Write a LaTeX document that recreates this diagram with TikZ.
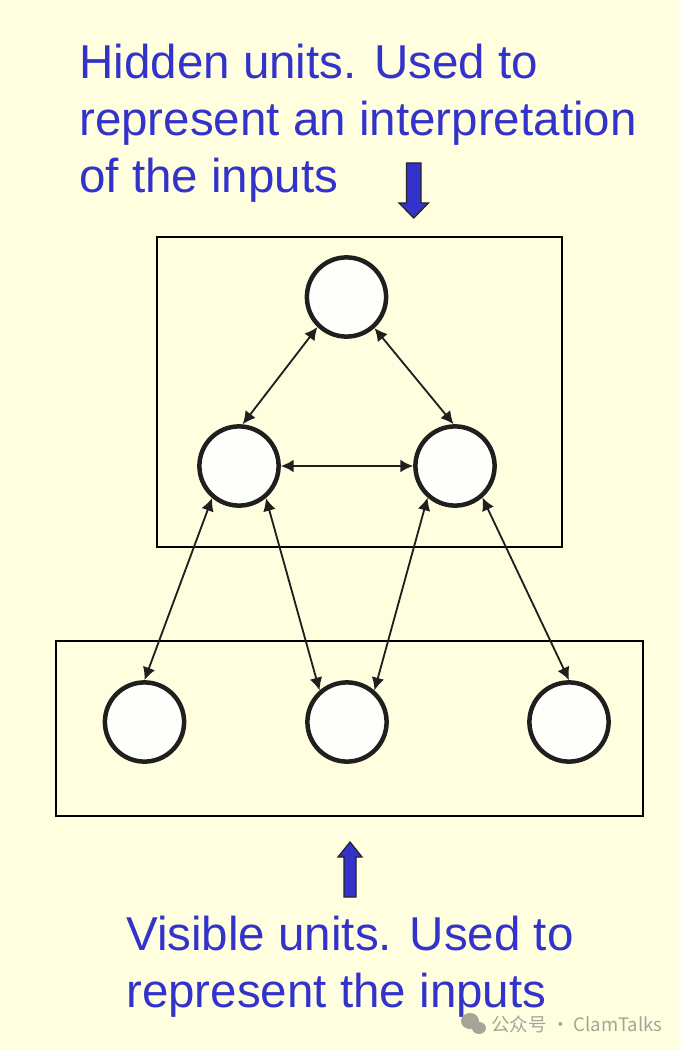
\documentclass[tikz,border=0pt]{standalone}
\usepackage{fontspec}
\setmainfont{Liberation Sans}
\newfontfamily\cjk{Noto Sans CJK SC}
\usetikzlibrary{arrows.meta}
\definecolor{slidebg}{RGB}{255,255,224}
\definecolor{labelblue}{RGB}{51,51,204}
\definecolor{markgray}{RGB}{165,165,150}
\definecolor{unitfill}{RGB}{254,254,250}
\begin{document}
\begin{tikzpicture}[x=0.025cm,y=-0.025cm,
  unit/.style={circle,draw=black!88,line width=3.2pt,fill=unitfill,minimum size=1.98cm,inner sep=0pt},
  link/.style={{Latex[length=3.2mm,width=3.2mm]}-{Latex[length=3.2mm,width=3.2mm]},line width=1.3pt,black!88},
  caption/.style={labelblue,font=\fontsize{33.8}{40.6}\selectfont,align=left,inner sep=0pt,anchor=north west},
  blockarrow/.style={fill=labelblue,draw=black!85,line width=0.9pt}]
\fill[slidebg] (0,0) rectangle (680,1050);
% captions
\node[caption] (hidtext) at (79,44) {Hidden units. Used to\\represent an interpretation\\of the inputs};
\node[caption] (vistext) at (126,916) {Visible units. Used to\\represent the inputs};
\filldraw[blockarrow] (406.5,163) -- (421,163) -- (421,203) -- (428.5,203) -- (413.75,218) -- (399,203) -- (406.5,203) -- cycle;
\filldraw[blockarrow] (344,897) -- (356,897) -- (356,857) -- (362,857) -- (350,842) -- (338,857) -- (344,857) -- cycle;
% the two layers
\draw[line width=1.1pt] (157,237) rectangle (562,547);
\draw[line width=1.1pt] (56,641) rectangle (643,816);
\node[unit] (top) at (346.5,297) {};
\node[unit] (hl) at (239,466) {};
\node[unit] (hr) at (455,466) {};
\node[unit] (vl) at (144.5,722) {};
\node[unit] (vm) at (347,722) {};
\node[unit] (vr) at (569,722) {};
% symmetric links
\draw[link] (top.-134) -- (hl.85);
\draw[link] (top.-48) -- (hr.92);
\draw[link] (hl.east) -- (hr.west);
\draw[link] (hl.-130) -- (vl.north);
\draw[link] (hl.-50) -- (vm.131);
\draw[link] (hr.-131) -- (vm.49);
\draw[link] (hr.-49) -- (vr.north);
% watermark
\fill[markgray] (470,1021) ellipse (9 and 8);
\fill[markgray] (479,1028) ellipse (7 and 6);
\node[font=\cjk\fontsize{13.2}{15}\selectfont,text=markgray,anchor=west,inner sep=0pt] (mark) at (491,1024) {公众号 · ClamTalks};
\end{tikzpicture}
\end{document}
